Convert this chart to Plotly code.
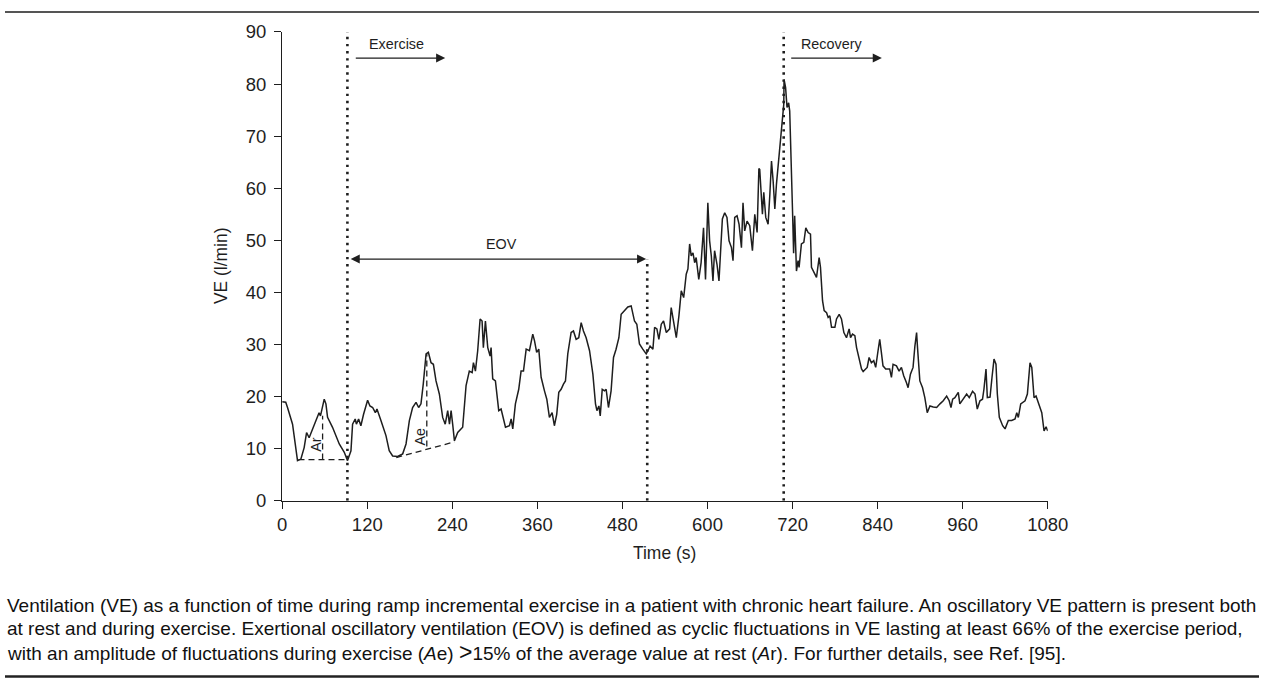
import plotly.graph_objects as go

# ---------------- data ----------------
time_s = [0, 5, 7.5, 14.6, 21.6, 26.4, 31, 34.4, 38, 42, 47.6, 52, 54, 57, 59.3, 61.7, 64, 71, 80.5, 87.6,
          92.2, 97, 99.3, 103, 104.7, 107.8, 111, 114.8, 120.5, 123.8, 127.6, 131.4, 133.7, 139.3, 144, 146.4,
          151, 155.8, 162.8, 170, 174.7, 179.4, 184, 188.8, 192.5, 195.8, 199, 203, 206.2, 210, 213.3, 217,
          221.7, 226.4, 230, 233.5, 236, 238.3, 240.5, 243, 247.6,
          254.6, 259.4, 264, 268, 269.8, 272.6, 275.8, 279.2, 282, 283.8, 286.7, 290, 293.3, 294.7, 297, 300.8,
          305.5, 308.8, 315, 320.6, 323, 325.3, 329, 333.7, 337, 340.4, 344.2, 348.8, 353.5, 356, 359, 362,
          365.3, 370, 373.3, 377, 380.8, 384, 387.3, 390.2, 393.5, 396.8, 399.6, 402.9, 407.6, 410.9, 414.7,
          418.4, 421.8, 425, 428.8, 433.6, 438.3, 442, 444, 446.8, 448.7, 451.5, 454.8, 457, 460.3, 464, 467.4,
          471, 475, 478.2, 483, 487.6, 492.3, 494.7, 497, 500.3, 504, 508.7, 513.5, 516, 519, 523, 525.4, 528.6,
          531.4, 534.8, 538, 541.9, 546.6,
          548.8, 552.3, 556, 559.7, 563, 566.4, 570, 572.4, 574.8, 577, 579.5, 581.9, 584, 587.7, 591, 594.4,
          597.2, 600.5, 603, 605.4, 607.7, 610, 613.4, 616.2, 618.2, 621, 624.3, 627.5, 630.4, 633.8, 636,
          638.4, 641.7, 644.5, 647.9, 650.1, 652.5, 655.8, 659.6, 663.4, 666.7, 670,
          672.5, 673.7, 677.5, 679.4, 682.2, 685.5, 688, 690.3, 692.6, 695, 697.3, 701, 704.4, 707.6, 708,
          710.2, 712.2, 714.5, 716, 718.4, 720, 721.5, 723, 725.5, 727.8, 729.2, 732.5, 735.9, 738.7, 742,
          745.3, 746.7, 749, 753.8, 757.5, 759.4, 762.3, 764.6, 768, 770.2, 772.6, 775, 779.7, 782, 785.8, 789,
          792.4, 796.1, 799.8, 801.8, 804.6, 807.9, 810.3, 814, 817.3, 819.6, 825.3, 828, 831.2, 834.5, 837.3,
          840.6, 843, 845.3, 847.6, 851.4, 857, 859.5, 861.8, 866.6, 870.3, 873.6, 876.8, 880.6, 883, 886.3,
          890, 892.6, 895, 896.3, 899.6, 903.4, 906.6, 910, 913.8, 918.5, 923.3, 928, 932.6, 937.4, 941, 943.5,
          945.9, 949, 953.8, 956, 960.9, 965.6, 969.3, 974, 977.4, 980.6, 984.4, 988, 990, 992.9, 994.8, 998.6,
          1001.4, 1004.2, 1007, 1008.9, 1011.7, 1016.4, 1019.8, 1024.4, 1029.2, 1033.9, 1036.3, 1038.5, 1041.9,
          1048, 1051.3, 1055, 1057.5, 1060.7, 1063.5, 1066.7, 1071.6, 1074.8, 1077.7, 1080]

ve_l_min = [19.0, 18.9, 17.9, 14.7, 7.7, 8.0, 10.2, 13.1, 12.1, 13.4, 15.4, 16.9, 16.3, 17.9, 19.5, 18.6, 16.0,
            14.1, 10.9, 9.3, 7.7, 9.6, 14.7, 15.7, 14.7, 15.7, 14.4, 16.6, 19.3, 18.2, 17.9, 16.9, 17.6, 15.4,
            13.4, 12.5, 9.6, 8.6, 8.5, 9.0, 10.9, 15.4, 17.9, 18.9, 17.9, 18.6, 22.4, 28.2, 28.5, 26.5, 26.2,
            23.0, 20.5, 16.0, 14.7, 17.3, 14.7, 17.3, 14.7, 11.5, 13.1,
            14.1, 22.1, 24.9, 24.6, 26.5, 24.9, 28.8, 34.9, 34.5, 29.4, 34.5, 29.4, 27.8, 29.4, 23.4, 23.0,
            17.3, 17.6, 14.1, 14.4, 15.7, 13.8, 18.6, 21.4, 24.9, 24.9, 29.1, 28.8, 32.0, 30.7, 28.5, 29.1,
            23.7, 21.1, 19.5, 16.0, 16.9, 14.4, 16.6, 20.8, 21.4, 22.4, 23.0, 28.2, 32.3, 32.6, 31.0,
            31.3, 34.2, 32.6, 31.3, 28.8, 24.3, 18.6, 17.3, 18.2, 16.3, 21.4, 21.1, 21.4, 17.9, 21.1, 27.5,
            29.1, 31.3, 35.8, 36.5, 37.2, 37.4, 35.5, 34.5, 33.9, 30.1, 29.1, 28.2, 28.8, 29.7, 29.1, 33.3, 33.0,
            31.0, 33.9, 34.5, 32.3, 33.0,
            37.1, 33.9, 31.3, 35.5, 40.3, 39.0, 43.5, 44.5, 49.3, 47.0, 47.6, 45.7, 46.7, 42.5, 45.7, 52.4,
            42.5, 57.2, 49.9, 47.0, 42.2, 48.0, 45.4, 42.2, 48.3, 54.1, 55.3, 54.4, 49.9, 48.6, 46.1,
            54.4, 54.7, 53.1, 48.6, 57.2, 51.8, 53.7, 52.8, 48.0, 55.0, 51.5,
            63.8, 63.6, 55.0, 59.2, 54.4, 53.1, 58.9, 65.2, 61.4, 56.0, 60.8, 66.5, 71.6, 76.1, 80.9,
            79.3, 75.5, 76.4, 74.8, 65.2, 55.5, 47.5, 54.7, 44.1, 46.1, 44.8, 49.3, 49.6, 52.4, 51.5,
            51.2, 44.8, 44.1, 42.9, 46.7, 44.8, 38.4, 36.5, 36.1, 35.2, 35.5, 33.3, 33.3, 34.9, 35.8, 34.9,
            32.3, 31.3, 33.0, 31.3, 32.0, 31.7, 29.4, 27.5, 25.3, 24.8, 25.6, 27.5, 26.5, 26.9, 25.6,
            28.8, 31.0, 28.5, 25.9, 25.3, 25.3, 23.7, 26.2, 25.9, 24.9, 25.6, 24.0, 22.7, 21.7, 24.3,
            25.6, 29.7, 32.3, 29.4, 23.0, 21.7, 19.8, 16.9, 18.2, 18.0, 17.9, 18.6, 19.2, 20.1, 19.2, 17.9,
            19.5, 19.8, 20.8, 18.6, 19.5, 20.5, 19.8, 21.0, 20.5, 17.6, 19.2, 19.5, 21.4, 25.3, 19.8, 19.9,
            23.7, 27.2, 26.2, 20.5, 16.0, 14.4, 13.8, 15.4, 15.4, 15.7, 16.9, 16.0, 18.6,
            19.2, 20.5, 26.5, 25.6, 19.8, 20.1, 18.9, 16.9, 13.4, 14.2, 13.4]

x_ticks = [0, 120, 240, 360, 480, 600, 720, 840, 960, 1080]
y_ticks = [0, 10, 20, 30, 40, 50, 60, 70, 80, 90]

# phase boundaries (s) and guide values
exercise_start = 92
eov_end = 515
recovery_start = 707.5
eov_level = 46.4
phase_arrow_level = 85.0
ar_base = 7.9
ar_x = [23, 92]
ar_peak_t = 57
ar_peak_v = 16.3
ae_x = [161, 243]
ae_y = [8.3, 11.3]
ae_peak_t = 204
ae_base_v = 10.4
ae_peak_v = 28.2

caption_lines = [
    "Ventilation (VE) as a function of time during ramp incremental exercise in a patient with chronic heart "
    "failure. An oscillatory VE pattern is present both",
    "at rest and during exercise. Exertional oscillatory ventilation (EOV) is defined as cyclic fluctuations "
    "in VE lasting at least 66% of the exercise period,",
    "with an amplitude of fluctuations during exercise (<i>A</i>e) <span style='font-size:23px'>&gt;</span>15% "
    "of the average value at rest (<i>A</i>r). For further details, see Ref. [95].",
]

# ---------------- layout geometry ----------------
W, H = 1280, 688
# the photographed page is slightly inset/scaled; map target picture pixels to page pixels
SX, OX = 0.979, 6.0
SY, OY = 0.970, 10.0
FS = 1 / 0.975


def px(r):
    return (r - OX) / SX


def py(r):
    return (r - OY) / SY


X0, X1 = px(283), px(1048)
Y0, Y1 = py(31), py(500)
FONT = "Liberation Sans, Arial, sans-serif"
INK = "#1e1e1e"

fig = go.Figure()
fig.add_trace(go.Scatter(x=time_s, y=ve_l_min, mode="lines",
                         line=dict(color=INK, width=1.5), hoverinfo="skip", showlegend=False))

shapes = []
dot = dict(color=INK, width=2.6, dash="2.4px,4.7px")
for t, top in [(exercise_start, 90), (eov_end, eov_level), (recovery_start, 90)]:
    shapes.append(dict(type="line", xref="x", yref="y", x0=t, x1=t, y0=0, y1=top, line=dot))
dash = dict(color=INK, width=1.3, dash="6px,4px")
shapes += [
    dict(type="line", xref="x", yref="y", x0=ar_x[0], x1=ar_x[1], y0=ar_base, y1=ar_base, line=dash),
    dict(type="line", xref="x", yref="y", x0=ar_peak_t, x1=ar_peak_t, y0=ar_base, y1=ar_peak_v, line=dash),
    dict(type="line", xref="x", yref="y", x0=ae_x[0], x1=ae_x[1], y0=ae_y[0], y1=ae_y[1], line=dash),
    dict(type="line", xref="x", yref="y", x0=ae_peak_t, x1=ae_peak_t, y0=ae_base_v, y1=ae_peak_v, line=dash),
    # horizontal page rules
    dict(type="line", xref="paper", yref="paper", x0=0, x1=1, y0=1 - 1.0 / H, y1=1 - 1.0 / H,
         line=dict(color="#555555", width=2)),
    dict(type="line", xref="paper", yref="paper", x0=0, x1=1, y0=1 - 686.5 / H, y1=1 - 686.5 / H,
         line=dict(color="#222222", width=2.5)),
]

arrow = dict(xref="x", yref="y", axref="x", ayref="y", text="", showarrow=True,
             arrowhead=2, arrowsize=1.4, arrowwidth=1.3, arrowcolor=INK)
small = dict(family=FONT, size=14 * FS, color=INK)
annotations = [
    dict(arrow, x=230, y=phase_arrow_level, ax=101.7, ay=phase_arrow_level),
    dict(arrow, x=846, y=phase_arrow_level, ax=716, ay=phase_arrow_level),
    dict(arrow, x=eov_end - 1.5, y=eov_level, ax=exercise_start + 2.5, ay=eov_level,
         arrowside="end+start", startarrowhead=2, startarrowsize=1.4),
    dict(x=161, y=87.6, xref="x", yref="y", text="Exercise", showarrow=False, font=small),
    dict(x=775, y=87.6, xref="x", yref="y", text="Recovery", showarrow=False, font=small),
    dict(x=309, y=49.2, xref="x", yref="y", text="EOV", showarrow=False, font=small),
    dict(x=48, y=10.8, xref="x", yref="y", text="Ar", showarrow=False, textangle=-90, font=small),
    dict(x=195, y=12.4, xref="x", yref="y", text="Ae", showarrow=False, textangle=-90, font=small),
    # axis titles
    dict(x=px(665) / W, y=1 - py(552) / H, xref="paper", yref="paper", xanchor="center", yanchor="middle",
         text="Time (s)", showarrow=False, font=dict(family=FONT, size=17 * FS, color=INK)),
    dict(x=px(222) / W, y=1 - py(265) / H, xref="paper", yref="paper", xanchor="center", yanchor="middle",
         text="VE (l/min)", showarrow=False, textangle=-90, font=dict(family=FONT, size=17 * FS, color=INK)),
]
for i, line in enumerate(caption_lines):
    annotations.append(dict(x=0, y=1 - py(605 + 23 * i) / H, xref="paper", yref="paper",
                            xanchor="left", yanchor="middle", align="left", text=line, showarrow=False,
                            font=dict(family=FONT, size=19, color="#111111")))

axis_common = dict(showgrid=False, zeroline=False, showline=True, linecolor=INK, linewidth=1.3,
                   ticks="outside", ticklen=7, tickwidth=1.3, tickcolor=INK,
                   tickfont=dict(family=FONT, size=18 * FS, color=INK))

fig.update_layout(
    width=W, height=H, margin=dict(l=0, r=0, t=0, b=0),
    paper_bgcolor="white", plot_bgcolor="white",
    xaxis=dict(axis_common, domain=[X0 / W, X1 / W], range=[0, 1080], tickvals=x_ticks,
               ticktext=[str(v) for v in x_ticks]),
    yaxis=dict(axis_common, domain=[1 - Y1 / H, 1 - Y0 / H], range=[0, 90], tickvals=y_ticks,
               ticktext=[str(v) for v in y_ticks], ticklabelstandoff=4),
    shapes=shapes, annotations=annotations, showlegend=False,
)

fig.write_html("out.html", config={"displayModeBar": False},
               post_script="document.body.style.margin='0';document.body.style.overflow='hidden';")
